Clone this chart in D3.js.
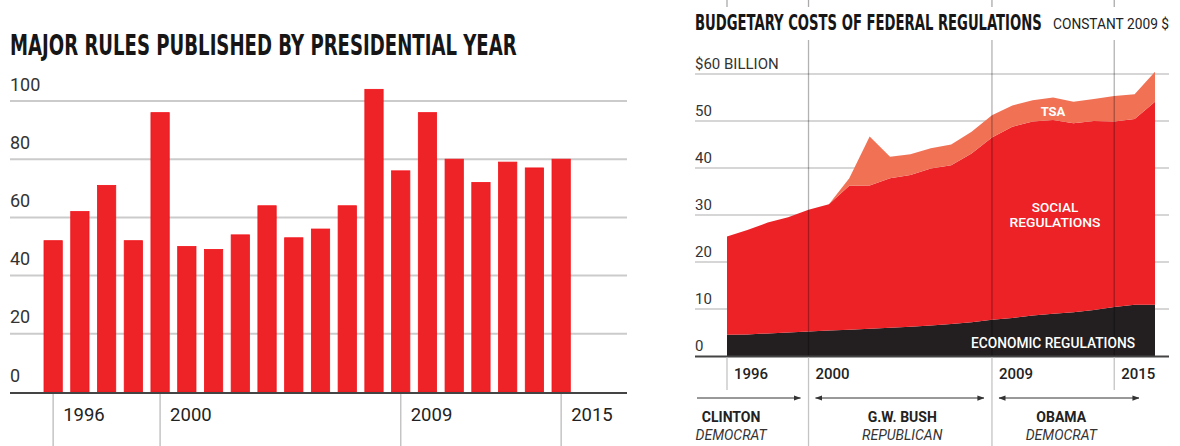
<!DOCTYPE html>
<html>
<head>
<meta charset="utf-8">
<style>
  body { margin: 0; background: #fff; }
  svg text { font-family: Roboto, "Noto Sans", sans-serif; fill: #333; }
  svg text.title {
    font-family: "Liberation Sans Narrow", "DejaVu Sans Condensed", Roboto, sans-serif;
    font-weight: bold;
    fill: #161616;
  }
  .inside { fill: #fff !important; font-weight: 500; }
</style>
</head>
<body>
<svg id="chart" width="1180" height="446"></svg>
<script src="https://d3js.org/d3.v7.min.js"></script>
<script>
// left: major rules per presidential year
var ruleYears = [1996, 1997, 1998, 1999, 2000, 2001, 2002, 2003, 2004, 2005,
  2006, 2007, 2008, 2009, 2010, 2011, 2012, 2013, 2014, 2015];
var majorRules = [52, 62, 71, 52, 96, 50, 49, 54, 64, 53,
  56, 64, 104, 76, 96, 80, 72, 79, 77, 80];
var ruleTicks = [0, 20, 40, 60, 80, 100];
var ruleYearLabels = [1996, 2000, 2009, 2015];

// right: budgetary costs, billions of constant 2009 $
var costYears = [1996, 1997, 1998, 1999, 2000, 2001, 2002, 2003, 2004, 2005, 2006,
  2007, 2008, 2009, 2010, 2011, 2012, 2013, 2014, 2015, 2016, 2017];
var economicCost = [4.5, 4.6, 4.8, 5.0, 5.2, 5.4, 5.6, 5.8, 6.0, 6.2, 6.5,
  6.8, 7.2, 7.7, 8.1, 8.6, 9.0, 9.3, 9.8, 10.4, 10.9, 10.9];
var socialCost = [20.9, 22.2, 23.6, 24.5, 25.9, 26.9, 30.6, 30.5, 31.8, 32.3, 33.4,
  33.8, 35.9, 38.8, 40.7, 41.3, 41.2, 40.2, 40.2, 39.5, 39.5, 43.2];
var tsaCost = [0, 0, 0, 0, 0, 0, 1.6, 10.4, 4.6, 4.4, 4.3,
  4.4, 4.6, 4.7, 4.5, 4.5, 4.8, 4.6, 4.7, 5.4, 5.3, 6.4];
var costTicks = [0, 10, 20, 30, 40, 50, 60];
var costYearLabels = [1996, 2000, 2009, 2015];
var presidents = [
  { name: 'CLINTON', party: 'DEMOCRAT', start: 1993, end: 2000, labelAt: 1996.2 },
  { name: 'G.W. BUSH', party: 'REPUBLICAN', start: 2000, end: 2009, labelAt: 2004.6 },
  { name: 'OBAMA', party: 'DEMOCRAT', start: 2009, end: 2017, labelAt: 2012.4 }
];

var svg = d3.select('#chart');

// squeeze a heading into a width, then stretch it up to the wanted cap height
function tallTitle(g, str, x, y, width, capHeight) {
  var t = g.append('text').attr('class', 'title').style('font-size', '100px').text(str);
  var size = 100 * width / t.node().getComputedTextLength();
  var sy = capHeight / (0.73 * size);
  t.style('font-size', size + 'px')
    .attr('transform', 'translate(' + x + ',' + y + ') scale(1,' + sy + ')');
  return t;
}

// ---------- left chart ----------
var left = svg.append('g');
var xBar = d3.scaleBand().domain(ruleYears).range([44, 570.3]).paddingInner(0.316).paddingOuter(0);
var yBar = d3.scaleLinear().domain([0, 100]).range([392, 101]);

tallTitle(left, 'MAJOR RULES PUBLISHED BY PRESIDENTIAL YEAR', 10, 55, 507, 20.5);

left.selectAll('line.grid')
  .data(ruleTicks.filter(d => d > 0))
  .join('line')
  .attr('class', 'grid')
  .attr('x1', 10).attr('x2', 627)
  .attr('y1', d => yBar(d)).attr('y2', d => yBar(d))
  .attr('stroke', '#cbcbcb').attr('stroke-width', 2);

left.selectAll('text.ylab')
  .data(ruleTicks)
  .join('text')
  .attr('class', 'ylab')
  .attr('x', 10).attr('y', d => yBar(d) - 10.5)
  .style('font-size', '18px')
  .text(d => d);

left.selectAll('rect.bar')
  .data(majorRules)
  .join('rect')
  .attr('class', 'bar')
  .attr('x', (d, i) => xBar(ruleYears[i]))
  .attr('width', xBar.bandwidth())
  .attr('y', d => yBar(d))
  .attr('height', d => yBar(0) - yBar(d))
  .attr('fill', '#ed2327')
  .attr('stroke', '#f2141b').attr('stroke-width', 0.8);

left.append('line')
  .attr('x1', 10).attr('x2', 627)
  .attr('y1', 393).attr('y2', 393)
  .attr('stroke', '#444').attr('stroke-width', 2);

var barMid = d => xBar(d) + xBar.bandwidth() / 2;
left.selectAll('line.xtick')
  .data(ruleYearLabels)
  .join('line')
  .attr('class', 'xtick')
  .attr('x1', barMid).attr('x2', barMid)
  .attr('y1', 394).attr('y2', 446)
  .attr('stroke', '#c4c4c4').attr('stroke-width', 1.5);

left.selectAll('text.xlab')
  .data(ruleYearLabels)
  .join('text')
  .attr('class', 'xlab')
  .attr('x', d => barMid(d) + 10).attr('y', 421)
  .style('font-size', '18.5px').style('fill', '#222')
  .text(d => d);

// ---------- right chart ----------
var right = svg.append('g');
var xCost = d3.scaleLinear().domain([1996, 2017]).range([727, 1155]);
var yCost = d3.scaleLinear().domain([0, 60]).range([356, 74]);

tallTitle(right, 'BUDGETARY COSTS OF FEDERAL REGULATIONS', 695, 30, 347, 15);

right.append('text')
  .attr('x', 1053).attr('y', 29)
  .attr('textLength', 116).attr('lengthAdjust', 'spacingAndGlyphs')
  .style('font-size', '14px').style('fill', '#222')
  .text('CONSTANT 2009 $');

// stubs at the very top
right.selectAll('line.stub')
  .data(costYearLabels)
  .join('line')
  .attr('class', 'stub')
  .attr('x1', d => xCost(d)).attr('x2', d => xCost(d))
  .attr('y1', 0).attr('y2', 7)
  .attr('stroke', '#aaa').attr('stroke-width', 1.3);

right.selectAll('line.grid')
  .data(costTicks.filter(d => d > 0))
  .join('line')
  .attr('class', 'grid')
  .attr('x1', 695).attr('x2', 1169)
  .attr('y1', d => yCost(d)).attr('y2', d => yCost(d))
  .attr('stroke', '#c8c8c8').attr('stroke-width', 1.5);

right.selectAll('text.ylab')
  .data(costTicks)
  .join('text')
  .attr('class', 'ylab')
  .attr('x', 695).attr('y', d => yCost(d) - 5.5)
  .style('font-size', '15px')
  .text(d => d === 60 ? '$60 BILLION' : d);

var table = costYears.map((y, i) => ({
  year: y, economic: economicCost[i], social: socialCost[i], tsa: tsaCost[i]
}));
var series = d3.stack().keys(['economic', 'social', 'tsa'])(table);
var colors = { economic: '#231f20', social: '#ec2227', tsa: '#f17155' };
var area = d3.area()
  .x(d => xCost(d.data.year))
  .y0(d => yCost(d[0]))
  .y1(d => yCost(d[1]));

right.selectAll('path.layer')
  .data(series)
  .join('path')
  .attr('class', 'layer')
  .attr('d', area)
  .attr('fill', d => colors[d.key]);

// presidency / year lines through the plot
right.selectAll('line.vline')
  .data(costYearLabels.filter(d => d > 1996))
  .join('line')
  .attr('class', 'vline')
  .attr('x1', d => xCost(d)).attr('x2', d => xCost(d))
  .attr('y1', 40).attr('y2', 356)
  .attr('stroke', '#000').attr('stroke-opacity', 0.3).attr('stroke-width', 1.3);

right.append('line')
  .attr('x1', 695).attr('x2', 1169)
  .attr('y1', 356.5).attr('y2', 356.5)
  .attr('stroke', '#444').attr('stroke-width', 2);

var termStarts = presidents.map(p => p.start);
right.selectAll('line.xtick')
  .data(costYearLabels)
  .join('line')
  .attr('class', 'xtick')
  .attr('x1', d => xCost(d)).attr('x2', d => xCost(d))
  .attr('y1', 357.5).attr('y2', d => termStarts.includes(d) ? 446 : 390)
  .attr('stroke', '#c4c4c4').attr('stroke-width', 1.3);

right.selectAll('text.xlab')
  .data(costYearLabels)
  .join('text')
  .attr('class', 'xlab')
  .attr('x', d => xCost(d) + 7).attr('y', 378.5)
  .style('font-size', '15px').style('font-weight', 500).style('fill', '#222')
  .text(d => d);

// area labels
right.append('text').attr('class', 'inside')
  .attr('x', 1053).attr('y', 116).attr('text-anchor', 'middle')
  .style('font-size', '13px').style('font-weight', 'bold')
  .text('TSA');
right.append('text').attr('class', 'inside')
  .attr('x', 1055).attr('y', 211.7).attr('text-anchor', 'middle')
  .style('font-size', '13.5px')
  .text('SOCIAL');
right.append('text').attr('class', 'inside')
  .attr('x', 1055).attr('y', 227.3).attr('text-anchor', 'middle')
  .attr('textLength', 91).attr('lengthAdjust', 'spacingAndGlyphs')
  .style('font-size', '13.5px')
  .text('REGULATIONS');
right.append('text').attr('class', 'inside')
  .attr('x', 971).attr('y', 348.3)
  .attr('textLength', 164).attr('lengthAdjust', 'spacingAndGlyphs')
  .style('font-size', '14.5px').style('fill', '#eee')
  .text('ECONOMIC REGULATIONS');

// presidency arrows
var defs = svg.append('defs');
defs.append('marker')
  .attr('id', 'head')
  .attr('viewBox', '0 0 8 6')
  .attr('refX', 7.5).attr('refY', 3)
  .attr('markerWidth', 7).attr('markerHeight', 5.5)
  .attr('markerUnits', 'userSpaceOnUse')
  .attr('orient', 'auto-start-reverse')
  .append('path').attr('d', 'M0,0L8,3L0,6Z').attr('fill', '#333');

var arrowLeft = 697, arrowRight = 1139;
presidents.forEach(function (p) {
  var x1 = xCost(p.start) + 7, x2 = xCost(p.end) - 8;
  var clipped = x1 < arrowLeft;
  x1 = Math.max(x1, arrowLeft);
  x2 = Math.min(x2, arrowRight);
  var line = right.append('line')
    .attr('x1', x1).attr('x2', x2)
    .attr('y1', 398).attr('y2', 398)
    .attr('stroke', '#333').attr('stroke-width', 1)
    .attr('marker-end', 'url(#head)');
  if (!clipped) line.attr('marker-start', 'url(#head)');

  right.append('text')
    .attr('x', xCost(p.labelAt)).attr('y', 422.3)
    .attr('text-anchor', 'middle')
    .style('font-size', '14px').style('font-weight', 'bold').style('fill', '#222')
    .text(p.name);
  right.append('text')
    .attr('x', xCost(p.labelAt)).attr('y', 440)
    .attr('text-anchor', 'middle')
    .style('font-size', '14px').style('font-style', 'italic')
    .text(p.party);
});
</script>
</body>
</html>
